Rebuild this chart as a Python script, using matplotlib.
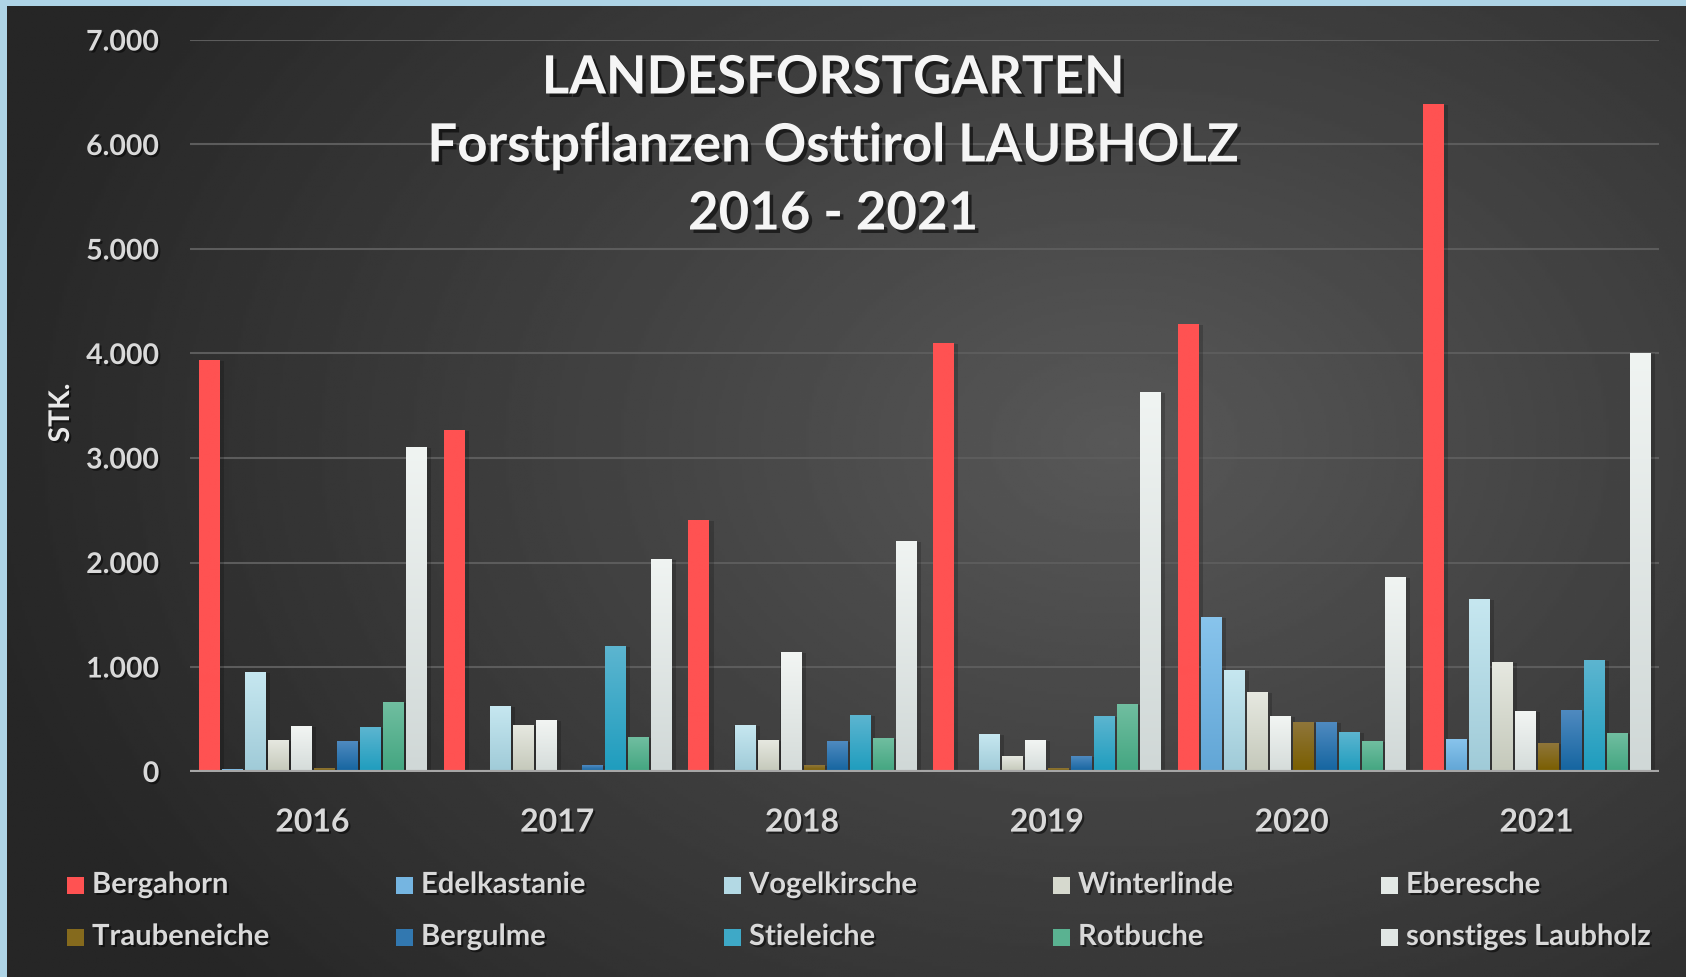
import matplotlib.pyplot as plt
import matplotlib.patheffects as pe
from matplotlib.colors import to_rgb
from matplotlib.patches import Rectangle
import numpy as np

years = ["2016", "2017", "2018", "2019", "2020", "2021"]
species = ["Bergahorn", "Edelkastanie", "Vogelkirsche", "Winterlinde", "Eberesche",
           "Traubeneiche", "Bergulme", "Stieleiche", "Rotbuche", "sonstiges Laubholz"]

bergahorn = [3930, 3260, 2400, 4090, 4270, 6380]
edelkastanie = [10, 0, 5, 5, 1470, 305]
vogelkirsche = [940, 620, 440, 345, 965, 1645]
winterlinde = [290, 440, 290, 135, 755, 1040]
eberesche = [430, 480, 1130, 295, 525, 565]
traubeneiche = [25, 0, 55, 20, 460, 260]
bergulme = [280, 50, 280, 135, 460, 575]
stieleiche = [420, 1190, 535, 525, 370, 1060]
rotbuche = [660, 325, 315, 640, 280, 355]
sonstiges = [3100, 2020, 2200, 3620, 1850, 4000]

series = [bergahorn, edelkastanie, vogelkirsche, winterlinde, eberesche,
          traubeneiche, bergulme, stieleiche, rotbuche, sonstiges]

# gradient colours (top, bottom) per series
top_cols = ["#FF5252", "#88C4EC", "#C6E7F0", "#E6E8E0", "#F2F5F3",
            "#8F763A", "#4F8AC0", "#5CB5D0", "#70BEA0", "#F0F4F2"]
bot_cols = ["#FF5252", "#62A6D6", "#A0CBD8", "#C5C9BB", "#D5DCDA",
            "#7A5E00", "#1565A0", "#1F9DBE", "#44A681", "#D0D8D7"]

W, H = 1686, 977
fig = plt.figure(figsize=(W / 100, H / 100), dpi=100, facecolor="#AED4E6")

# dark background with a soft radial highlight
bg = fig.add_axes([7 / W, 0, 1 - 7 / W, 1 - 6 / H])
yy, xx = np.mgrid[0:1:300j, 0:1:600j]
d = np.sqrt(((xx - 0.66) / 0.6) ** 2 + ((yy - 0.45) / 0.75) ** 2)
shade = np.clip(0.345 - 0.17 * d, 0.15, None)
bg.imshow(shade, cmap="gray", vmin=0, vmax=1, extent=[0, 1, 0, 1], aspect="auto")
bg.axis("off")

ax = fig.add_axes([190 / W, (H - 771.5) / H, (1659 - 190) / W, (771.5 - 40) / H])
ax.set_facecolor("none")

x = np.arange(len(years))
step = 0.094
width = 0.082

for i, vals in enumerate(series):
    xs = x + (i - 4.5) * step
    # soft shadow
    ax.bar(xs + 0.01, vals, width * 1.25, color="black", alpha=0.18, zorder=2, linewidth=0)
    bars = ax.bar(xs, vals, width, color="none", linewidth=0, zorder=3)
    g = np.linspace(0, 1, 64)[:, None, None]
    img = (1 - g) * np.array(to_rgb(top_cols[i])) + g * np.array(to_rgb(bot_cols[i]))
    for b in bars:
        if b.get_height() <= 0:
            continue
        ax.imshow(img, extent=[b.get_x(), b.get_x() + b.get_width(), 0, b.get_height()],
                  aspect="auto", zorder=3, interpolation="bilinear")

ax.set_xlim(-0.5, 5.5)
ax.set_ylim(0, 7000)
ax.set_aspect("auto")

yt = np.arange(0, 7001, 1000)
ax.set_yticks(yt)
ax.set_yticklabels([f"{v:,}".replace(",", ".") for v in yt])
ax.set_xticks(x)
ax.set_xticklabels(years)
ax.yaxis.grid(True, color="#5c5c5c", lw=1.5)
ax.set_axisbelow(True)
ax.axhline(0, color="#a6a6a6", lw=3, zorder=4)
for s in ax.spines.values():
    s.set_visible(False)

shadow = [pe.withSimplePatchShadow(offset=(1.5, -1.5), shadow_rgbFace="black", alpha=0.5)]
ax.tick_params(axis="y", length=0, pad=22, labelcolor="#D9D9D9", labelsize=20.5)
ax.tick_params(axis="x", length=0, pad=26, labelcolor="#D9D9D9", labelsize=23)
for lab in ax.get_xticklabels() + ax.get_yticklabels():
    lab.set_fontfamily("Lato")
    lab.set_fontweight("bold")
    lab.set_path_effects(shadow)

fig.text(61 / W, 1 - 413 / H, "STK.", rotation=90, ha="center", va="center",
         fontsize=20.5, fontweight="bold", family="Lato", color="#E8E8E8", path_effects=shadow)

tshadow = [pe.withSimplePatchShadow(offset=(2.5, -2.5), shadow_rgbFace="black", alpha=0.55)]
for txt, yc in [("LANDESFORSTGARTEN", 78), ("Forstpflanzen Osttirol LAUBHOLZ", 146), ("2016 - 2021", 214)]:
    fig.text(833 / W, 1 - yc / H, txt, ha="center", va="center", fontsize=38,
             fontweight="bold", family="Lato", color="#F5F5F5", path_effects=tshadow)

# legend, two rows of five
col_x = [67, 396, 724, 1053, 1381]
row_y = [885, 937]
for i, name in enumerate(species):
    r, c = divmod(i, 5)
    x0, yc = col_x[c], row_y[r]
    mid = 0.5 * (np.array(to_rgb(top_cols[i])) + np.array(to_rgb(bot_cols[i])))
    fig.add_artist(Rectangle((x0 / W, (H - yc - 8.5) / H), 17 / W, 17 / H,
                             transform=fig.transFigure, facecolor=mid, linewidth=0))
    fig.text((x0 + 25) / W, 1 - yc / H, name, ha="left", va="center", fontsize=21,
             fontweight="bold", family="Lato", color="#D9D9D9", path_effects=shadow)

fig.savefig("out.png", dpi=100, facecolor=fig.get_facecolor())
